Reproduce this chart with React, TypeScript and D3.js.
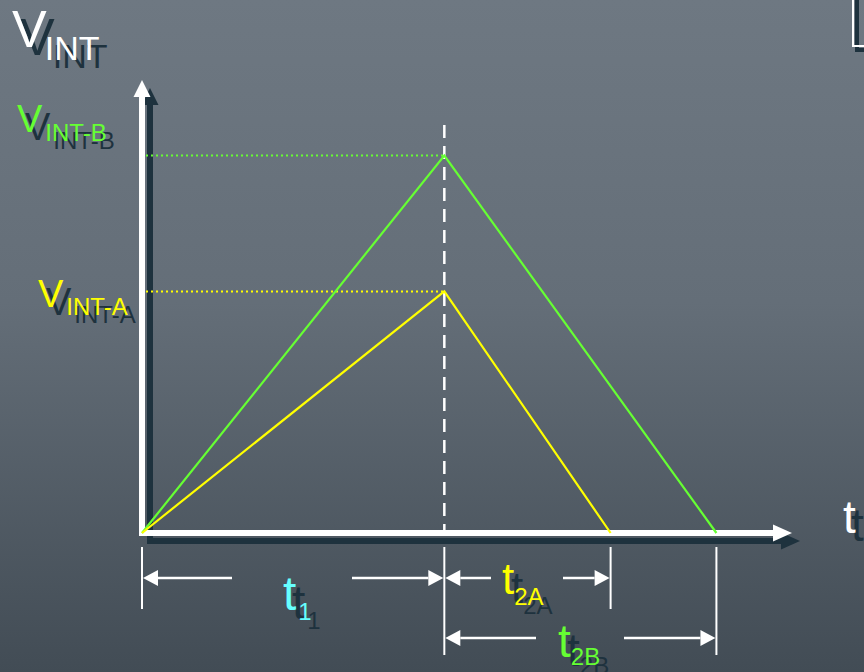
import React from "react";
import * as d3 from "d3";

// Dual-slope integrator output: ramp up for t1, ramp down for t2
const timeA = [0, 10, 15.5];
const voltA = [0, 6.4, 0];
const timeB = [0, 10, 19];
const voltB = [0, 10, 0];
const T1 = 10;
const timeMax = 21.5;
const voltMax = 12;

const W = 864;
const H = 672;
const GREEN = "#66ff33";
const YELLOW = "#ffff00";
const CYAN = "#66ffff";
const SHADOW = "#1e323e";
const FONT = "'Liberation Sans', Arial, sans-serif";

const x = d3.scaleLinear().domain([0, timeMax]).range([142, 792]);
const y = d3.scaleLinear().domain([0, voltMax]).range([533, 80]);

const lineGen = d3
  .line<[number, number]>()
  .x((d) => x(d[0]))
  .y((d) => y(d[1]));

function SubLabel(props: {
  x: number;
  y: number;
  main: string;
  sub?: string;
  size: number;
  subSize?: number;
  dx?: number;
  dy?: number;
  color: string;
  shadow?: number;
}) {
  const { main, sub, size, subSize = 24, dx = 0, dy = 0, color, shadow = 8 } = props;
  const body = (fill: string, ox: number, oy: number) => (
    <text x={props.x + ox} y={props.y + oy} fontSize={size} fill={fill} fontFamily={FONT}>
      <tspan>{main}</tspan>
      {sub ? (
        <tspan dx={dx} dy={dy} fontSize={subSize}>
          {sub}
        </tspan>
      ) : null}
    </text>
  );
  return (
    <g>
      {body(SHADOW, shadow, shadow)}
      {body(color, 0, 0)}
    </g>
  );
}

function Axes(props: { color: string }) {
  const c = props.color;
  const x0 = x(0);
  const y0 = y(0);
  const yTip = y(voltMax);
  const xTip = x(timeMax);
  return (
    <g>
      <line x1={x0} y1={y0 + 3} x2={x0} y2={yTip + 16} stroke={c} strokeWidth={6} />
      <polygon points={`${x0},${yTip} ${x0 - 8.5},${yTip + 17} ${x0 + 8.5},${yTip + 17}`} fill={c} />
      <line x1={x0 - 3} y1={y0} x2={xTip - 18} y2={y0} stroke={c} strokeWidth={6} />
      <polygon points={`${xTip},${y0} ${xTip - 19},${y0 - 8.5} ${xTip - 19},${y0 + 8.5}`} fill={c} />
    </g>
  );
}

function DimArrow(props: { from: number; to: number; yPos: number; gapCenter: number; gapHalf: number }) {
  const { from, to, yPos, gapCenter, gapHalf } = props;
  const head = 16;
  const half = 8;
  return (
    <g fill="#ffffff" stroke="#ffffff">
      <line x1={from + head} y1={yPos} x2={gapCenter - gapHalf} y2={yPos} strokeWidth={2.5} />
      <polygon
        points={`${from + 1},${yPos} ${from + head},${yPos - half} ${from + head},${yPos + half}`}
        stroke="none"
      />
      <line x1={gapCenter + gapHalf} y1={yPos} x2={to - head} y2={yPos} strokeWidth={2.5} />
      <polygon points={`${to - 1},${yPos} ${to - head},${yPos - half} ${to - head},${yPos + half}`} stroke="none" />
    </g>
  );
}

export default function App() {
  const ptsA = timeA.map((t, i) => [t, voltA[i]] as [number, number]);
  const ptsB = timeB.map((t, i) => [t, voltB[i]] as [number, number]);
  const xT1 = x(T1);
  const xEndA = x(timeA[2]);
  const xEndB = x(timeB[2]);
  const y0 = y(0);
  const row1 = 578;
  const row2 = 638;

  return (
    <svg
      width={W}
      height={H}
      viewBox={`0 0 ${W} ${H}`}
      style={{ position: "absolute", left: 0, top: 0, display: "block" }}
    >
      <defs>
        <linearGradient id="bg" x1="0" y1="0" x2="0" y2="1">
          <stop offset="0" stopColor="#6e7882" />
          <stop offset="0.45" stopColor="#646e78" />
          <stop offset="1" stopColor="#424c55" />
        </linearGradient>
      </defs>
      <rect x={0} y={0} width={W} height={H} fill="url(#bg)" />

      {/* corner of a frame at the top right */}
      <rect x={857} y={-20} width={40} height={70} fill="none" stroke={SHADOW} strokeWidth={4} />
      <rect x={853} y={-20} width={40} height={66} fill="none" stroke="#ffffff" strokeWidth={2} />

      {/* axes with drop shadow */}
      <g transform="translate(8,8)">
        <Axes color={SHADOW} />
      </g>
      <Axes color="#ffffff" />

      {/* guide lines */}
      <line x1={xT1} y1={125} x2={xT1} y2={y0 - 3} stroke="#ffffff" strokeWidth={2.5} strokeDasharray="13 8" />
      <line
        x1={x(0) + 4}
        y1={y(voltB[1])}
        x2={xT1}
        y2={y(voltB[1])}
        stroke={GREEN}
        strokeWidth={2}
        strokeDasharray="2 3"
      />
      <line
        x1={x(0) + 4}
        y1={y(voltA[1])}
        x2={xT1}
        y2={y(voltA[1])}
        stroke={YELLOW}
        strokeWidth={2}
        strokeDasharray="2 3"
      />

      {/* integrator ramps */}
      <path d={lineGen(ptsB) || ""} fill="none" stroke={GREEN} strokeWidth={2.2} />
      <path d={lineGen(ptsA) || ""} fill="none" stroke={YELLOW} strokeWidth={2.2} />

      {/* extension lines below the time axis */}
      <g stroke="#ffffff" strokeWidth={2}>
        <line x1={x(0)} y1={547} x2={x(0)} y2={609} />
        <line x1={xT1} y1={547} x2={xT1} y2={655} />
        <line x1={xEndA} y1={547} x2={xEndA} y2={609} />
        <line x1={xEndB} y1={547} x2={xEndB} y2={655} />
      </g>

      <DimArrow from={x(0)} to={xT1} yPos={row1} gapCenter={292} gapHalf={60} />
      <DimArrow from={xT1} to={xEndA} yPos={row1} gapCenter={527} gapHalf={36} />
      <DimArrow from={xT1} to={xEndB} yPos={row2} gapCenter={580} gapHalf={44} />

      {/* labels */}
      <SubLabel x={12} y={47} main="V" sub="INT" size={52} subSize={34} dx={-2} dy={13} color="#ffffff" />
      <SubLabel x={17} y={132} main="V" sub="INT-B" size={38} subSize={24} dx={3} dy={9} color={GREEN} />
      <SubLabel x={38} y={307} main="V" sub="INT-A" size={38} subSize={24} dx={3} dy={8} color={YELLOW} />
      <SubLabel x={283} y={610} main="t" sub="1" size={48} subSize={24} dx={2} dy={10} color={CYAN} shadow={9} />
      <SubLabel x={502} y={594} main="t" sub="2A" size={44} subSize={24} dx={0} dy={11} color={YELLOW} shadow={9} />
      <SubLabel x={558} y={657} main="t" sub="2B" size={46} subSize={24} dx={0} dy={8} color={GREEN} shadow={9} />
      <SubLabel x={843} y={533} main="t" size={46} color="#ffffff" />
    </svg>
  );
}
